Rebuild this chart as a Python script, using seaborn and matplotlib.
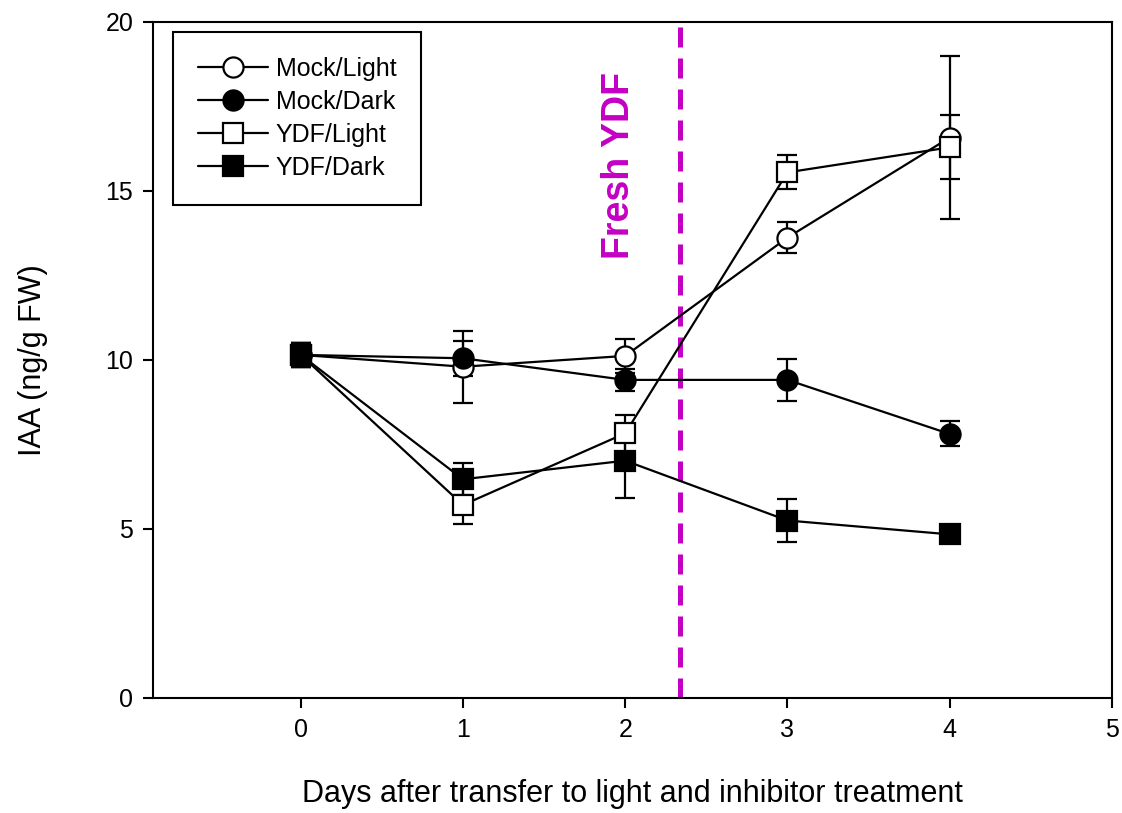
import matplotlib
matplotlib.use("Agg")
import matplotlib.pyplot as plt
import seaborn as sns
import pandas as pd

# Data
days = [0, 1, 2, 3, 4]

mock_light = [10.15, 9.80, 10.12, 13.62, 16.58]
mock_light_err = [0.35, 1.07, 0.50, 0.45, 2.42]

mock_dark = [10.15, 10.05, 9.41, 9.41, 7.81]
mock_dark_err = [0.35, 0.52, 0.33, 0.63, 0.37]

ydf_light = [10.15, 5.71, 7.83, 15.55, 16.29]
ydf_light_err = [0.35, 0.56, 0.55, 0.50, 0.95]

ydf_dark = [10.15, 6.47, 7.02, 5.25, 4.84]
ydf_dark_err = [0.35, 0.48, 1.10, 0.65, 0.15]

fresh_ydf_day = 2.34

series = [
    ("Mock/Light", mock_light, mock_light_err, "o", "white"),
    ("Mock/Dark", mock_dark, mock_dark_err, "o", "black"),
    ("YDF/Light", ydf_light, ydf_light_err, "s", "white"),
    ("YDF/Dark", ydf_dark, ydf_dark_err, "s", "black"),
]

sns.set_style("ticks")
plt.rcParams['font.family'] = ['Liberation Sans', 'DejaVu Sans']
plt.rcParams['axes.linewidth'] = 1.5
plt.rcParams['text.color'] = 'black'
plt.rcParams['axes.labelcolor'] = 'black'
plt.rcParams['xtick.color'] = 'black'
plt.rcParams['ytick.color'] = 'black'

fig = plt.figure(figsize=(11.22, 8.13), dpi=100)
ax = fig.add_axes([0.1364, 0.1415, 0.8547, 0.8315])

magenta = "#C400C4"
ax.axvline(fresh_ydf_day, color=magenta, lw=3.6, dashes=(4, 2.2),
           dash_capstyle='butt', zorder=1)
ax.text(fresh_ydf_day - 0.38, 15.75, "Fresh YDF", rotation=90, color=magenta,
        fontsize=27, fontweight='bold', ha='center', va='center')

for name, vals, errs, mk, fc in series:
    df = pd.DataFrame({"day": days, "iaa": vals})
    ax.errorbar(days, vals, yerr=errs, fmt='none', ecolor='black',
                elinewidth=1.6, capsize=7.2, capthick=1.6, zorder=2)
    sns.lineplot(data=df, x="day", y="iaa", ax=ax, color='black', lw=1.6,
                 marker=mk, markersize=14.5, markerfacecolor=fc,
                 markeredgecolor='black', markeredgewidth=1.6,
                 label=name, zorder=3)

ax.set_xlim(-0.91, 5)
ax.set_ylim(0, 20)
ax.set_xticks([0, 1, 2, 3, 4, 5])
ax.set_yticks([0, 5, 10, 15, 20])
ax.tick_params(axis='both', direction='out', length=7.2, width=1.5,
               labelsize=18, pad=7, colors='black')
for sp in ax.spines.values():
    sp.set_visible(True)
    sp.set_color('black')

ax.set_xlabel("Days after transfer to light and inhibitor treatment",
              fontsize=22, labelpad=27)
ax.set_ylabel("IAA (ng/g FW)", fontsize=22, labelpad=41)

leg = ax.legend(loc='upper left', bbox_to_anchor=(0.021, 0.985),
                borderaxespad=0, fontsize=18, frameon=True, fancybox=False,
                framealpha=1, edgecolor='black', handlelength=2.8,
                handletextpad=0.3, labelspacing=0.36, borderpad=1.0)
leg.get_frame().set_linewidth(1.5)

fig.savefig("out.png", dpi=100)
